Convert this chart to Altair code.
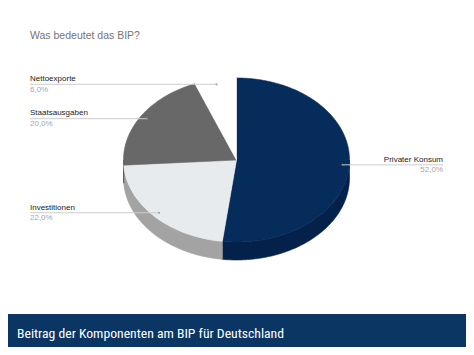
import math
import altair as alt
import pandas as pd

# ---- data ----
categories = ["Privater Konsum", "Investitionen", "Staatsausgaben", "Nettoexporte"]
shares = [52.0, 22.0, 20.0, 6.0]
pct_labels = ["52,0%", "22,0%", "20,0%", "6,0%"]
top_colors = ["#062c5b", "#e8ebed", "#686868", "#ffffff"]
side_colors = ["#03214a", "#a3a3a3", "#4a4a4a", "#e0e0e0"]
title_text = "Was bedeutet das BIP?"
footer_text = "Beitrag der Komponenten am BIP für Deutschland"

# ---- layout (page pixel coordinates) ----
W, H = 458, 339
CX, CY, RX, RY, DEPTH = 236.5, 160.0, 113.0, 82.0, 18.0
ANCHOR_F = 0.94
LEFT_X, RIGHT_X = 30, 443


def pt(a_deg, cy=CY, f=1.0):
    a = math.radians(a_deg)
    return CX + f * RX * math.sin(a), cy - f * RY * math.cos(a)


def arc(s, e, cy=CY):
    n = max(2, int(math.ceil((e - s) / 1.0)) + 1)
    return [pt(s + (e - s) * k / (n - 1), cy) for k in range(n)]


total = sum(shares)
tops, sides, anchors = [], [], []
start = 0.0
for cat, v, pl, tc, sc in zip(categories, shares, pct_labels, top_colors, side_colors):
    end = start + 360.0 * v / total
    # top face wedge
    poly = [(CX, CY)] + arc(start, end) + [(CX, CY)]
    for i, (x, y) in enumerate(poly):
        tops.append({"piece": cat, "i": i, "x": x, "y": y, "color": tc})
    # visible front side (between 90 and 270 degrees)
    lo, hi = max(start, 90.0), min(end, 270.0)
    if hi > lo:
        upper = arc(lo, hi)
        lower = arc(lo, hi, CY + DEPTH)[::-1]
        poly = upper + lower + [upper[0]]
        for i, (x, y) in enumerate(poly):
            sides.append({"piece": cat, "i": i, "x": x, "y": y, "color": sc})
    mid = (start + end) / 2
    ax, ay = pt(mid, f=ANCHOR_F)
    right = math.sin(math.radians(mid)) >= 0
    anchors.append({
        "cat": cat, "pct": pl, "ax": ax, "ay": ay,
        "lx": RIGHT_X if right else LEFT_X,
        "x1": ax if right else LEFT_X,
        "x2": RIGHT_X if right else ax,
        "ty": ay - 3.2, "py": ay + 7.5,
        "align": "right" if right else "left",
    })
    start = end

tops_df = pd.DataFrame(tops)
sides_df = pd.DataFrame(sides)
anch_df = pd.DataFrame(anchors)

xs = alt.Scale(domain=[8, 8 + W], nice=False, zero=False)
ys = alt.Scale(domain=[8, 8 + H], nice=False, zero=False, reverse=True)
X = lambda f: alt.X(f, type="quantitative", scale=xs, axis=None)
Y = lambda f: alt.Y(f, type="quantitative", scale=ys, axis=None)

side_layer = alt.Chart(sides_df).mark_line(strokeWidth=0.6, strokeJoin="round").encode(
    x=X("x"), y=Y("y"), detail="piece:N", order="i:Q",
    fill=alt.Fill("color:N", scale=None), stroke=alt.Stroke("color:N", scale=None),
)
top_layer = alt.Chart(tops_df).mark_line(strokeWidth=0.6, strokeJoin="round").encode(
    x=X("x"), y=Y("y"), detail="piece:N", order="i:Q",
    fill=alt.Fill("color:N", scale=None), stroke=alt.Stroke("color:N", scale=None),
)

leader = alt.Chart(anch_df).mark_rule(color="#cccccc", strokeWidth=1).encode(
    x=X("x1"), x2="x2", y=Y("ay")
)
dots = alt.Chart(anch_df).mark_point(filled=True, size=5, color="#8a9bb0", opacity=0.8).encode(
    x=X("ax"), y=Y("ay")
)

lab_left = alt.Chart(anch_df).transform_filter("datum.align == 'left'")
lab_right = alt.Chart(anch_df).transform_filter("datum.align == 'right'")
label_layers = []
for base, al in ((lab_left, "left"), (lab_right, "right")):
    label_layers.append(base.mark_text(align=al, baseline="alphabetic", font="Liberation Sans",
                                       fontSize=8, color="#222222").encode(
        x=X("lx"), y=Y("ty"), text="cat:N"))
    label_layers.append(base.mark_text(align=al, baseline="alphabetic", font="Liberation Sans",
                                       fontSize=8, color="#a6a6a6").encode(
        x=X("lx"), y=Y("py"), text="pct:N"))

frame_df = pd.DataFrame({"title": [title_text], "footer": [footer_text]})
title = alt.Chart(frame_df).mark_text(align="left", baseline="alphabetic", font="Liberation Sans",
                                      fontSize=10.5, color="#757575").encode(
    x=alt.value(30 - 8), y=alt.value(38.5 - 8), text="title:N")
banner = alt.Chart(frame_df).mark_rect(color="#0b3663").encode(
    x=alt.value(0), x2=alt.value(W), y=alt.value(314 - 8), y2=alt.value(H))
footer = alt.Chart(frame_df).mark_text(align="left", baseline="alphabetic",
                                       font="Roboto Condensed, Roboto",
                                       fontSize=13.7, color="#ffffff").encode(
    x=alt.value(17 - 8), y=alt.value(338 - 8), text="footer:N")

chart = alt.layer(
    side_layer, top_layer, leader, dots, *label_layers, title, banner, footer
).properties(
    width=W, height=H, padding=0, autosize=alt.AutoSizeParams(type="none"),
    background="#ffffff",
).configure_view(stroke=None)

chart.save("out.html", embed_options={"renderer": "svg", "actions": False})
